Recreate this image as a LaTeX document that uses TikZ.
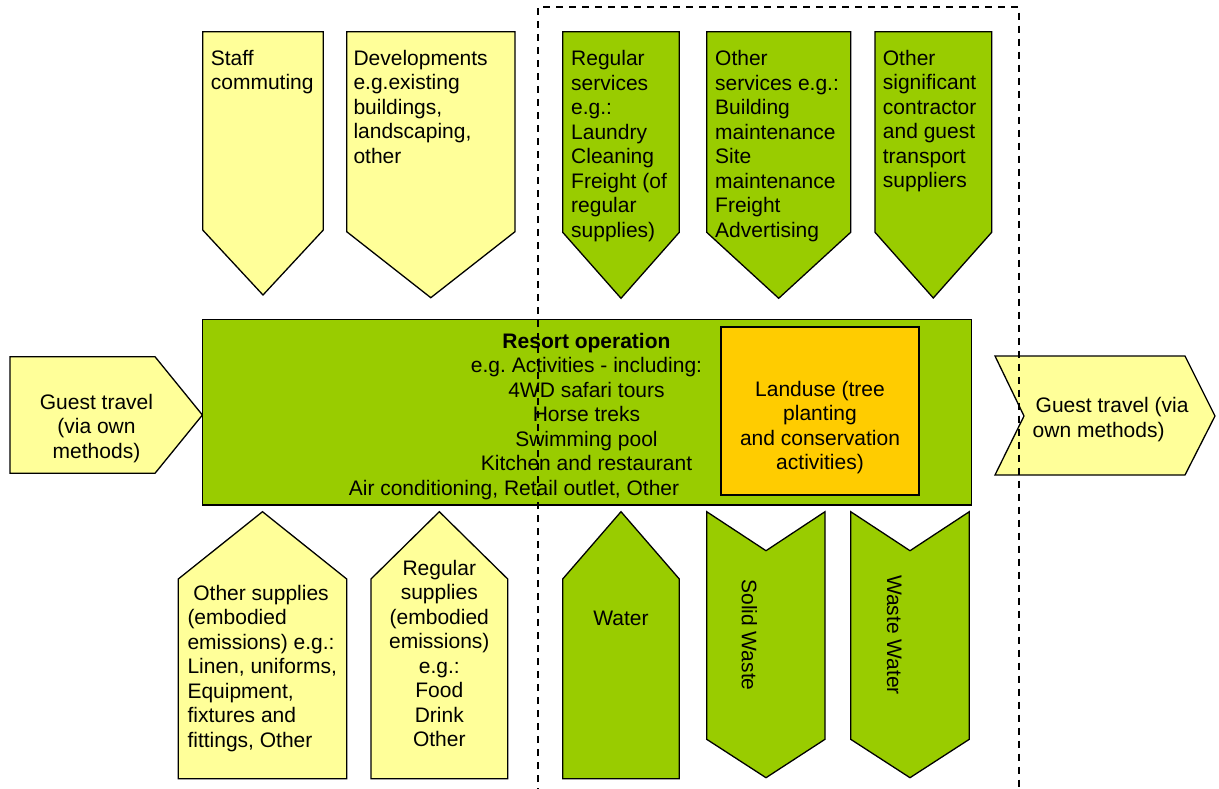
\documentclass[tikz,border=0pt]{standalone}
\usepackage{fontspec}
\setmainfont{Liberation Sans}
\frenchspacing
\definecolor{yelF}{HTML}{FFFF99}
\definecolor{grnF}{HTML}{99CC00}
\definecolor{orgF}{HTML}{FFCC00}
\begin{document}
\begin{tikzpicture}[x=1pt,y=-1pt,
  font=\fontsize{21}{24.5}\selectfont\frenchspacing,
  yel/.style={fill=yelF,draw=black,line width=1.3pt,line join=miter},
  grn/.style={fill=grnF,draw=black,line width=1.3pt,line join=miter},
  org/.style={fill=orgF,draw=black,line width=1.3pt},
  txtL/.style={inner sep=0pt,align=left,anchor=base west},
  txtC/.style={inner sep=0pt,align=center,anchor=base},
  txtR/.style={inner sep=0pt,anchor=center,rotate=-90},
  dashbox/.style={draw=black,line width=1.6pt,dash pattern=on 7pt off 6pt}]
\useasboundingbox (0,0) rectangle (1219,789);
\fill[white] (0,0) rectangle (1219,789);

% top row (base anchor = baseline of last line)
\draw[yel] (202.7,31.7) -- (323.3,31.7) -- (323.3,230) -- (263,295) -- (202.7,230) -- cycle;
\node[txtL] (staff) at (210.7,90) {Staff\\commuting};
\draw[yel] (346.7,31.7) -- (515,31.7) -- (515,231.7) -- (430.8,297.7) -- (346.7,231.7) -- cycle;
\node[txtL] (dev) at (353.3,163.5) {Developments\\e.g.existing\\buildings,\\landscaping,\\other};
\draw[grn] (562.7,31.7) -- (679.3,31.7) -- (679.3,232.3) -- (621,298.3) -- (562.7,232.3) -- cycle;
\node[txtL] (regserv) at (571,237) {Regular\\services\\e.g.:\\Laundry\\Cleaning\\Freight (of\\regular\\supplies)};
\draw[grn] (706.7,31.7) -- (850.7,31.7) -- (850.7,232.3) -- (778.7,298.3) -- (706.7,232.3) -- cycle;
\node[txtL] (othserv) at (715,237) {Other\\services e.g.:\\Building\\maintenance\\Site\\maintenance\\Freight\\Advertising};
\draw[grn] (875,31.7) -- (991.7,31.7) -- (991.7,232.3) -- (933.3,298) -- (875,232.3) -- cycle;
\node[txtL] (othsig) at (882.7,188) {Other\\significant\\contractor\\and guest\\transport\\suppliers};

% middle row
\draw[yel] (10,356.7) -- (155,356.7) -- (202.4,415) -- (155,473.3) -- (10,473.3) -- cycle;
\node[txtC] (gin) at (96.5,458) {Guest travel\\(via own\\methods)};
\draw[grn] (202.4,319.3) rectangle (971.5,505);
\node[txtC] (resort) at (586.5,470.5) {\textbf{Resort operation}\\e.g. Activities - including:\\4WD safari tours\\Horse treks\\Swimming pool\\Kitchen and restaurant};
\node[txtC] (resortlast) at (514,495) {Air conditioning, Retail outlet, Other};
\draw[org] (721,327) rectangle (919,495);
\node[txtC] (land) at (820,469.5) {Landuse (tree\\planting\\and conservation\\activities)};
\draw[yel] (995,356) -- (1185,356) -- (1215,416) -- (1185,475) -- (995,475) -- (1024,416) -- cycle;
\node[txtL] (gout) at (1032.5,437) {\hspace*{3pt}Guest travel (via\\own methods)};

% bottom row
\draw[yel] (178.3,579) -- (262.5,511.7) -- (346.7,579) -- (346.7,778.7) -- (178.3,778.7) -- cycle;
\node[txtL] (othsup) at (187.3,747.3) {\hspace*{0.278em}Other supplies\\(embodied\\emissions) e.g.:\\Linen, uniforms,\\Equipment,\\fixtures and\\fittings, Other};
\draw[yel] (371,579) -- (439.3,511.7) -- (507.7,579) -- (507.7,778.7) -- (371,778.7) -- cycle;
\node[txtC] (regsup) at (439.3,746.8) {Regular\\supplies\\(embodied\\emissions)\\e.g.:\\Food\\Drink\\Other};
\draw[grn] (562.7,579) -- (621,511.7) -- (679.3,579) -- (679.3,778.7) -- (562.7,778.7) -- cycle;
\node[txtC] (water) at (621,625.3) {Water};
\draw[grn] (706.7,511.7) -- (766,550.7) -- (825,511.7) -- (825,739.3) -- (766,777.7) -- (706.7,739.3) -- cycle;
\node[txtR] (solid) at (749.3,635) {Solid Waste};
\draw[grn] (850.7,511.7) -- (910,550.7) -- (969.3,511.7) -- (969.3,739.3) -- (910,777.7) -- (850.7,739.3) -- cycle;
\node[txtR] (wwater) at (894.3,635) {Waste Water};

% dashed boundary
\coordinate (dbl) at (538,795);
\coordinate (dtl) at (538,7.3);
\coordinate (dtr) at (1019,7.3);
\coordinate (dbr) at (1019,795);
\draw[dashbox] (dbl) -- (dtl) -- (dtr) -- (dbr);
\end{tikzpicture}
\end{document}
